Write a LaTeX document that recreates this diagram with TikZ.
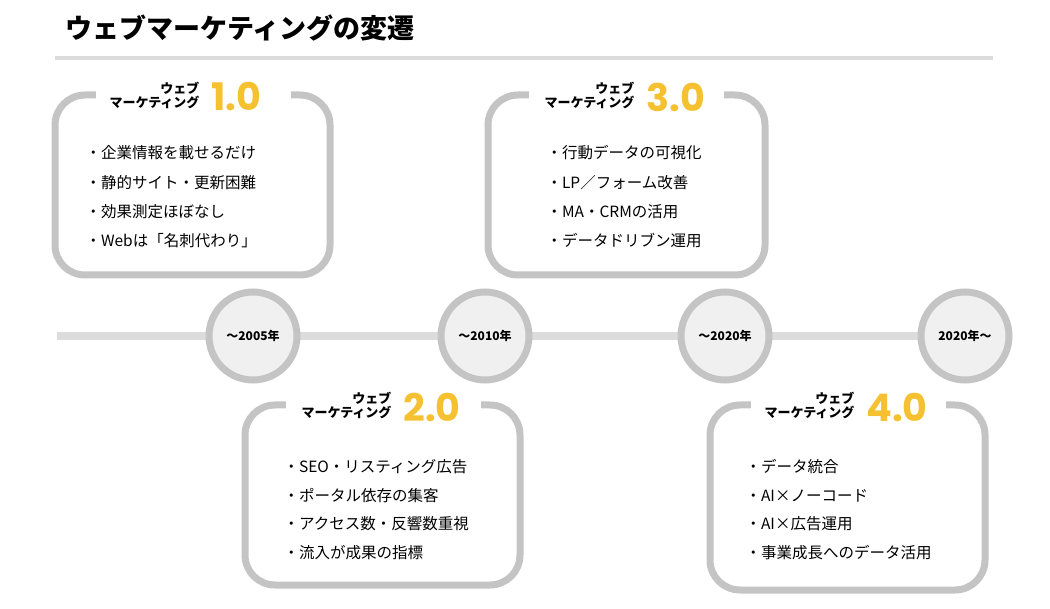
\documentclass[tikz,border=0pt]{standalone}
\usepackage{fontspec}
\setmainfont{Noto Sans CJK JP}
\newfontfamily\numfont{Poppins}
\definecolor{boxgray}{HTML}{C4C4C4}
\definecolor{linegray}{HTML}{DCDCDC}
\definecolor{ver}{HTML}{F5C131}
\tikzset{
  era/.style={rounded corners=30pt, draw=boxgray, line width=7pt, fill=white},
  gap/.style={fill=white, minimum width=195pt, minimum height=24pt},
  tag/.style={align=right, font=\bfseries\fontsize{13}{14}\selectfont, anchor=east},
  ver/.style={text=ver, font=\numfont\bfseries\fontsize{38}{38}\selectfont, anchor=west},
  item/.style={anchor=west, font=\fontsize{15.5}{17}\selectfont},
  year/.style={circle, draw=boxgray, line width=7pt, fill=black!6, minimum size=88pt, font=\bfseries\fontsize{12}{12}\selectfont}
}
\begin{document}
\begin{tikzpicture}[x=1pt,y=-1pt]
        \useasboundingbox (0,0) rectangle (1050,609);
        \node[anchor=west, font=\bfseries\fontsize{27}{28}\selectfont] (title) at (62,28) {ウェブマーケティングの変遷};
        \draw[linegray, line width=4pt] (55,58) -- (993,58);
        % timeline
        \coordinate (l0) at (57,336);
        \coordinate (l1) at (1000,336);
        \draw[linegray, line width=8pt] (l0) -- (l1);
        \node[year] (y1) at (253,336) {〜2005年};
        \node[year] (y2) at (485,336) {〜2010年};
        \node[year] (y3) at (725,336) {〜2020年};
        \node[year] (y4) at (965,336) {2020年〜};
        % 1.0
        \draw[era] (55,95) rectangle (330,275);
        \node[gap] (g1) at (193,95) {};
        \node[tag] (t1) at (203,95) {ウェブ\\マーケティング};
        \node[ver] (v1) at (208,97) {1.0};
        \node[item] (a1) at (82,153) {・企業情報を載せるだけ};
        \node[item] (a2) at (82,183) {・静的サイト・更新困難};
        \node[item] (a3) at (82,212) {・効果測定ほぼなし};
        \node[item] (a4) at (82,241) {・Webは「名刺代わり」};
        % 3.0
        \draw[era] (488,95) rectangle (765,275);
        \node[gap] (g3) at (626,95) {};
        \node[tag] (t3) at (638,95) {ウェブ\\マーケティング};
        \node[ver] (v3) at (643,97) {3.0};
        \node[item] (c1) at (543,153) {・行動データの可視化};
        \node[item] (c2) at (543,183) {・LP／フォーム改善};
        \node[item] (c3) at (543,212) {・MA・CRMの活用};
        \node[item] (c4) at (543,241) {・データドリブン運用};
        % 2.0
        \draw[era] (245,405) rectangle (520,585);
        \node[gap] (g2) at (383,405) {};
        \node[tag] (t2) at (395,405) {ウェブ\\マーケティング};
        \node[ver] (v2) at (400,407) {2.0};
        \node[item] (b1) at (280,467) {・SEO・リスティング広告};
        \node[item] (b2) at (280,496) {・ポータル依存の集客};
        \node[item] (b3) at (280,524) {・アクセス数・反響数重視};
        \node[item] (b4) at (280,553) {・流入が成果の指標};
        % 4.0
        \draw[era] (710,405) rectangle (985,590);
        \node[gap] (g4) at (848,405) {};
        \node[tag] (t4) at (858,405) {ウェブ\\マーケティング};
        \node[ver] (v4) at (863,407) {4.0};
        \node[item] (d1) at (742,467) {・データ統合};
        \node[item] (d2) at (742,496) {・AI×ノーコード};
        \node[item] (d3) at (742,524) {・AI×広告運用};
        \node[item] (d4) at (742,553) {・事業成長へのデータ活用};
\end{tikzpicture}
\end{document}
